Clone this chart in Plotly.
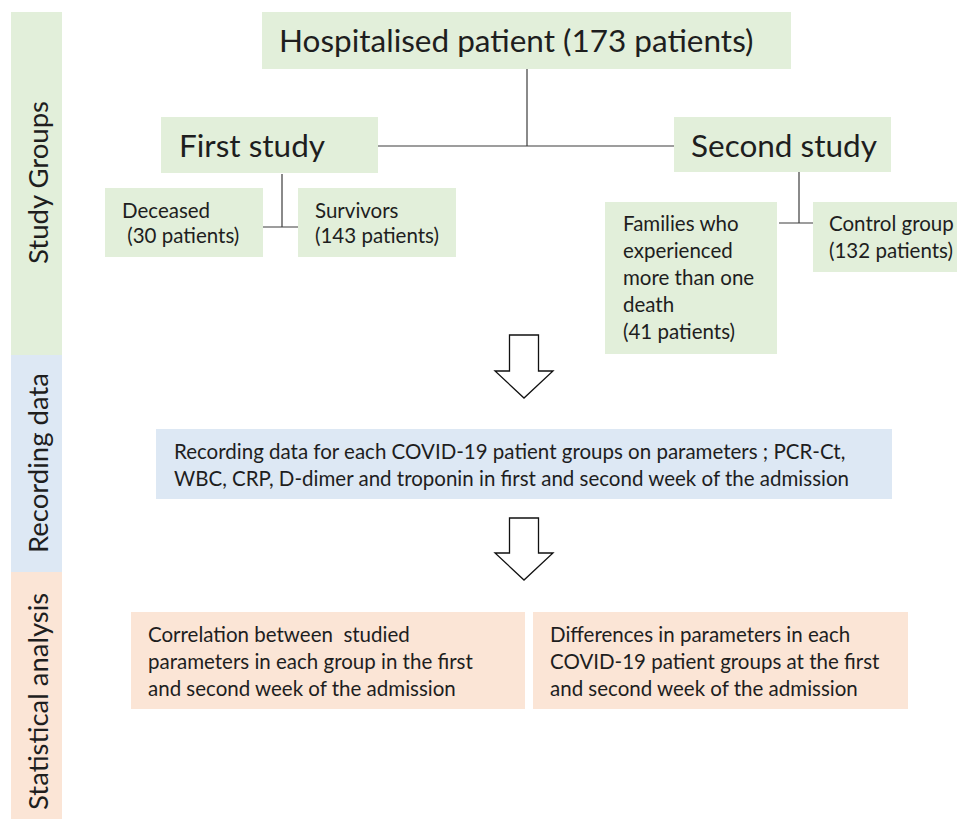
import plotly.graph_objects as go

# ---------------- data ----------------
total_patients = 173
study_names = ["First study", "Second study"]
group_names = ["Deceased", "Survivors", "Families who experienced more than one death", "Control group"]
group_counts = [30, 143, 41, 132]
stage_labels = ["Study Groups", "Recording data", "Statistical analysis"]
parameters = ["PCR-Ct", "WBC", "CRP", "D-dimer", "troponin"]
analysis_labels = [
    "Correlation between studied parameters in each group in the first and second week of the admission",
    "Differences in parameters in each COVID-19 patient groups at the first and second week of the admission",
]

# ---------------- style ----------------
FONT = "Lato"
TXT = "#1e1e1e"
GREEN = "#e2efda"
BLUE = "#dde8f4"
PEACH = "#fbe5d6"
LINE = "#3c3c3c"
W, H = 957, 819
SMALL = 20.5
BIG = 31.5

fig = go.Figure()
shapes = []
annotations = []


def box(x0, y0, x1, y1, color):
    shapes.append(dict(type="rect", xref="x", yref="y", x0=x0, y0=y0, x1=x1, y1=y1,
                       fillcolor=color, line=dict(width=0), layer="below"))


def lines(x, y0, step, texts, size):
    for i, t in enumerate(texts):
        annotations.append(dict(x=x, y=y0 + i * step, xref="x", yref="y", text=t,
                                showarrow=False, xanchor="left", yanchor="middle",
                                font=dict(family=FONT, size=size, color=TXT)))


def seg(x0, y0, x1, y1):
    shapes.append(dict(type="line", xref="x", yref="y", x0=x0, y0=y0, x1=x1, y1=y1,
                       line=dict(color=LINE, width=1.2)))


def block_arrow(cx, top, neck, tip, shaft_w, head_w):
    s, h = shaft_w / 2, head_w / 2
    path = (f"M {cx - s},{top} L {cx + s},{top} L {cx + s},{neck} L {cx + h},{neck} "
            f"L {cx},{tip} L {cx - h},{neck} L {cx - s},{neck} Z")
    shapes.append(dict(type="path", xref="x", yref="y", path=path,
                       fillcolor="white", line=dict(color="#111111", width=1.3)))


# stage bands on the left
band_colors = [GREEN, BLUE, PEACH]
band_edges = [12, 355, 572, 819]
band_mid = [183, 463, 702]
for i, lab in enumerate(stage_labels):
    box(11, band_edges[i], 62, band_edges[i + 1], band_colors[i])
    annotations.append(dict(x=37, y=band_mid[i], xref="x", yref="y", text=lab, textangle=-90,
                            showarrow=False, xanchor="center", yanchor="middle",
                            font=dict(family=FONT, size=27.5, color=TXT)))

# top box
box(262, 12, 791, 69, GREEN)
lines(277, 40, 0, [f"Hospitalised patient ({total_patients} patients)"], BIG)

# study boxes
box(161, 117, 378, 173, GREEN)
lines(177, 145, 0, [study_names[0]], BIG)
box(674, 117, 891, 172, GREEN)
lines(689, 145, 0, [study_names[1]], BIG)

# connectors
seg(527, 69, 527, 146)
seg(378, 146, 674, 146)
seg(282, 174, 282, 227)
seg(263, 227, 298, 227)
seg(799, 172, 799, 223)
seg(779, 223, 813, 223)

# group boxes
box(105, 188, 263, 257, GREEN)
lines(120, 210, 25, [group_names[0], f" ({group_counts[0]} patients)"], SMALL)
box(298, 188, 456, 257, GREEN)
lines(313, 210, 25, [group_names[1], f"({group_counts[1]} patients)"], SMALL)
box(605, 202, 777, 354, GREEN)
lines(621, 223, 27, ["Families who", "experienced", "more than one", "death",
                     f"({group_counts[2]} patients)"], SMALL)
box(813, 202, 960, 272, GREEN)
lines(827, 223, 27, [group_names[3], f"({group_counts[3]} patients)"], SMALL)

# arrows
block_arrow(524, 335, 371, 398, 29, 58)
block_arrow(524, 518, 553, 580, 29, 58)

# recording box
box(156, 429, 892, 499, BLUE)
lines(172, 451, 27, [
    f"Recording data for each COVID-19 patient groups on parameters ; {parameters[0]},",
    f"{parameters[1]}, {parameters[2]}, {parameters[3]} and {parameters[4]} in first and second week of the admission",
], SMALL)

# analysis boxes
box(131, 612, 525, 709, PEACH)
lines(146, 634, 27, ["Correlation between  studied",
                     "parameters in each group in the first",
                     "and second week of the admission"], SMALL)
box(533, 612, 908, 709, PEACH)
lines(548, 634, 27, ["Differences in parameters in each",
                     "COVID-19 patient groups at the first",
                     "and second week of the admission"], SMALL)

fig.update_layout(
    width=W, height=H, margin=dict(l=0, r=0, t=0, b=0),
    paper_bgcolor="white", plot_bgcolor="white",
    xaxis=dict(range=[0, W], visible=False, fixedrange=True),
    yaxis=dict(range=[H, 0], visible=False, fixedrange=True),
    shapes=shapes, annotations=annotations, showlegend=False,
)

fig.write_html("out.html", config={"displayModeBar": False},
               post_script="document.body.style.margin='0';document.body.style.padding='0';")
